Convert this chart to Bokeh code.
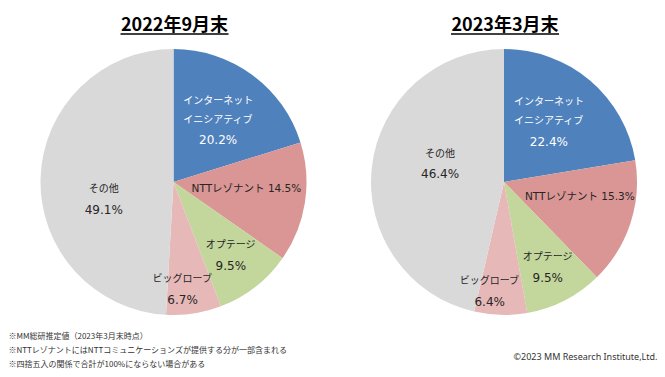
import math
from bokeh.plotting import figure
from bokeh.models import Range1d, ColumnDataSource
from bokeh.core.properties import value
from bokeh.embed import file_html
from bokeh.resources import INLINE

# ---- data ----
categories = ["インターネットイニシアティブ", "NTTレゾナント", "オプテージ", "ビッグローブ", "その他"]
label_names = [["インターネット", "イニシアティブ"], ["NTTレゾナント"], ["オプテージ"], ["ビッグローブ"], ["その他"]]
share_2022_09 = [20.2, 14.5, 9.5, 6.7, 49.1]
share_2023_03 = [22.4, 15.3, 9.5, 6.4, 46.4]
titles = ["2022年9月末", "2023年3月末"]
notes = [
    "※MM総研推定値（2023年3月末時点）",
    "※NTTレゾナントにはNTTコミュニケーションズが提供する分が一部含まれる",
    "※四捨五入の関係で合計が100%にならない場合がある",
]
copyright_text = "©2023 MM Research Institute,Ltd."

# ---- styles / layout ----
colors = ["#4F81BD", "#D99694", "#C3D69B", "#E6B9B8", "#D9D9D9"]
label_colors = ["#FFFFFF", "#262626", "#262626", "#262626", "#262626"]
W, H = 665, 377
R = 133
centers = [(173, 181.5), (503.5, 181.5)]          # pixel positions (y down)
# label placement: angle nudge (deg) and radial fraction per slice, per pie
label_nudge = [[-1, -4, 0, 4, -15.5], [-4, -7.5, 0, 6, 9.5]]
label_rfrac = [[0.58, 0.55, 0.70, 0.81, 0.54], [0.57, 0.58, 0.72, 0.83, 0.50]]
FONT = "DejaVu Sans, Noto Sans CJK JP"
JFONT = "Noto Sans CJK JP"

p = figure(width=W, height=H, x_range=Range1d(0, W), y_range=Range1d(0, H),
           min_border=0, toolbar_location=None, output_backend="svg",
           x_axis_location=None, y_axis_location=None)
p.grid.visible = False
p.outline_line_color = None
p.background_fill_color = "white"
p.border_fill_color = "white"

tx, ty, tt, tc, ts = [], [], [], [], []

for k, shares in enumerate([share_2022_09, share_2023_03]):
    cx, cy_pix = centers[k]
    cy = H - cy_pix
    total = sum(shares)
    starts, ends = [], []
    cum = 0.0
    for v in shares:
        a0 = math.pi / 2 - 2 * math.pi * cum / total
        cum += v
        a1 = math.pi / 2 - 2 * math.pi * cum / total
        starts.append(a1)
        ends.append(a0)
    src = ColumnDataSource(dict(start=starts, end=ends, color=colors, cat=categories))
    p.wedge(x=cx, y=cy, radius=R, start_angle="start", end_angle="end",
            direction="anticlock", fill_color="color", line_color=None, source=src)

    # labels
    cum = 0.0
    for i, v in enumerate(shares):
        mid = (cum + v / 2) / total * 360.0 + label_nudge[k][i]
        cum += v
        th = math.radians(mid)
        d = R * label_rfrac[k][i]
        lx = cx + d * math.sin(th)
        ly = cy + d * math.cos(th)
        pct = f"{v:.1f}%"
        names = label_names[i]
        if len(names) == 2:
            rows = [(names[0], 19, "10px"), (names[1], 0, "10px"), (pct, -21, "12px")]
        elif i == 1:
            rows = [(names[0] + " " + pct, 0, "10.5px")]
        else:
            rows = [(names[0], 10.5, "10px"), (pct, -10.5, "12px")]
        for s, off, fs in rows:
            tx.append(lx); ty.append(ly + off); tt.append(s)
            tc.append(label_colors[i]); ts.append(fs)

    # title with underline
    p.text(x=[cx + 1], y=[H - 22], text=[titles[k]], text_font=value(JFONT),
           text_font_style="bold", text_font_size="18px", text_align="center",
           text_baseline="middle", text_color="#000000")
    p.segment(x0=[cx + 1 - 54], y0=[H - 33.5], x1=[cx + 1 + 54], y1=[H - 33.5],
              line_color="#000000", line_width=1.3)

lsrc = ColumnDataSource(dict(x=tx, y=ty, text=tt, color=tc, size=ts))
p.text(x="x", y="y", text="text", text_color="color", text_font_size="size",
       text_font=value(FONT), text_align="center", text_baseline="middle", source=lsrc)

# footnotes
p.text(x=[8] * len(notes), y=[H - 335, H - 349, H - 363], text=notes,
       text_font=value(JFONT), text_font_size="8px", text_align="left",
       text_baseline="middle", text_color="#333333")
p.text(x=[657], y=[H - 355.5], text=[copyright_text], text_font=value("Noto Sans"),
       text_font_size="9px", text_align="right", text_baseline="middle",
       text_color="#333333")

open("out.html", "w").write(file_html(p, INLINE))
